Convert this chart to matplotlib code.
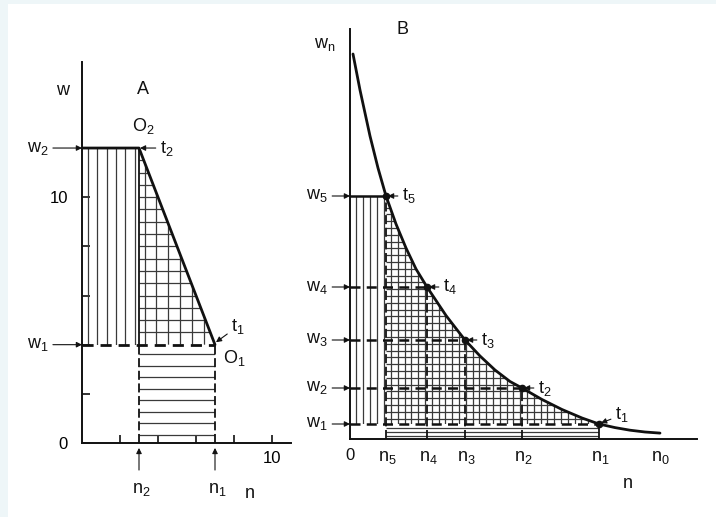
import numpy as np
import matplotlib
matplotlib.use("Agg")
import matplotlib.pyplot as plt
from matplotlib.patches import Polygon, Rectangle
from matplotlib.collections import LineCollection

plt.rcParams['font.family'] = ['Liberation Sans', 'DejaVu Sans']
plt.rcParams['mathtext.default'] = 'regular'

# --- panel A: two-step process ---
a_n = [0, 3, 7]          # n at w2 plateau start, n2, n1
a_w = [12, 12, 4]        # w2, w2, w1
a_n2, a_n1 = 3, 7
a_w2, a_w1 = 12, 4
a_ticks = [2, 4, 6, 8, 10]

# --- panel B: multi-step process, w_n(n) curve ---
b_curve_n = [0.3, 1.0, 2.0, 2.8, 3.6, 4.6, 5.6, 6.6, 7.7, 8.7, 9.6, 10.6, 11.5,
             13.0, 14.5, 16.0, 17.2, 19.2, 21.2, 23.2, 24.9, 26.5, 28.0, 29.5, 31.0]
b_curve_w = [38.5, 34.9, 30.3, 27.1, 24.3, 21.5, 19.1, 17.0, 15.2, 13.7, 12.35, 11.05, 9.9,
             8.3, 6.9, 5.75, 5.1, 3.95, 2.95, 2.1, 1.5, 1.14, 0.88, 0.7, 0.59]
# stage points t5..t1
b_step_n = [3.6, 7.7, 11.5, 17.2, 24.9]
b_step_w = [24.3, 15.2, 9.9, 5.1, 1.5]
b_step_idx = ['5', '4', '3', '2', '1']
b_n0 = 31.0

ink = '#111111'
hatch_ink = '#3a3a3a'
lab_size = 13


def hatch(ax, xy, dx=None, dy=None, x_start=None, y_start=None, lw=0.9):
    xy = np.asarray(xy, dtype=float)
    poly = Polygon(xy, closed=True, facecolor='none', edgecolor='none')
    ax.add_patch(poly)
    x0, y0 = xy.min(axis=0)
    x1, y1 = xy.max(axis=0)
    segs = []
    if dx:
        xs = np.arange(x_start if x_start is not None else x0 + dx / 2, x1, dx)
        segs += [[(x, y0), (x, y1)] for x in xs]
    if dy:
        ys = np.arange(y_start if y_start is not None else y0 + dy / 2, y1, dy)
        segs += [[(x0, y), (x1, y)] for y in ys]
    lc = LineCollection(segs, colors=hatch_ink, linewidths=lw)
    ax.add_collection(lc)
    lc.set_clip_path(poly)


def label_arrow(ax, text, xy, xytext, ha):
    ax.annotate(text, xy=xy, xytext=xytext, ha=ha, va='center', fontsize=lab_size, color=ink,
                arrowprops=dict(arrowstyle='-|>', color=ink, lw=0.8, mutation_scale=8,
                                shrinkA=1, shrinkB=0))


fig = plt.figure(figsize=(7.16, 5.17), dpi=100)
fig.patches.append(Rectangle((0, 0), 8 / 716, 1, transform=fig.transFigure,
                             facecolor='#eef6f8', edgecolor='none', zorder=-5))
fig.patches.append(Rectangle((0, 1 - 4 / 517), 1, 4 / 517, transform=fig.transFigure,
                             facecolor='#eef6f8', edgecolor='none', zorder=-5))

# ================= A =================
axA = fig.add_axes([82 / 716, 74 / 517, 209 / 716, 381 / 517])
axA.set_xlim(0, 11)
axA.set_ylim(0, 15.5)
axA.set_facecolor('none')
for s in ['top', 'right']:
    axA.spines[s].set_visible(False)
for s in ['left', 'bottom']:
    axA.spines[s].set_linewidth(1.4)
    axA.spines[s].set_color(ink)
axA.set_xticks(a_ticks)
axA.set_xticklabels(['', '', '', '', '10'], fontsize=12)
axA.set_yticks([0] + a_ticks)
axA.set_yticklabels(['0', '', '', '', '', '10'], fontsize=12)
axA.tick_params(axis='y', direction='in', length=6, width=1.2, color=ink, pad=10)
axA.tick_params(axis='x', direction='in', length=6, width=1.2, color=ink, pad=6)

hatch(axA, [(0, a_w1), (0, a_w2), (a_n2, a_w2), (a_n2, a_w1)], dx=0.49, x_start=0.32)
hatch(axA, [(a_n2, a_w1), (a_n2, a_w2), (a_n1, a_w1)], dx=0.62, dy=0.5,
      x_start=a_n2 + 0.3, y_start=a_w1 + 0.5)
hatch(axA, [(a_n2, 0), (a_n2, a_w1), (a_n1, a_w1), (a_n1, 0)], dy=0.47, y_start=0.33)

axA.plot(a_n, a_w, color=ink, lw=2.0, solid_capstyle='round')
axA.plot([a_n2, a_n2], [a_w1, a_w2], color=ink, lw=1.3)
axA.plot([0, a_n1], [a_w1, a_w1], color=ink, lw=2.0, ls=(0, (4, 2.5)))
axA.plot([a_n2, a_n2], [0, a_w1], color=ink, lw=1.3, ls=(0, (5, 2)))
axA.plot([a_n1, a_n1], [0, a_w1], color=ink, lw=1.3, ls=(0, (5, 2)))

txt = dict(fontsize=lab_size, color=ink, ha='center', va='center')
axA.text(-1.05, 14.35, 'w', **txt)
axA.text(3.2, 14.4, 'A', **txt)
axA.text(3.2, 12.9, 'O$_2$', **txt)
axA.text(8.0, 3.45, 'O$_1$', **txt)
label_arrow(axA, 'w$_2$', (0, a_w2), (-1.75, a_w2), 'right')
label_arrow(axA, 'w$_1$', (0, a_w1), (-1.75, a_w1), 'right')
label_arrow(axA, 't$_2$', (a_n2 + 0.05, a_w2), (4.1, a_w2), 'left')
label_arrow(axA, 't$_1$', (a_n1 + 0.05, a_w1 + 0.1), (7.85, 4.75), 'left')
for n, lab in [(a_n2, 'n$_2$'), (a_n1, 'n$_1$')]:
    axA.annotate('', xy=(n, -0.2), xytext=(n, -1.1), annotation_clip=False,
                 arrowprops=dict(arrowstyle='-|>', color=ink, lw=0.8, mutation_scale=8,
                                 shrinkA=0, shrinkB=0))
    axA.text(n + 0.1, -1.9, lab, **txt)
axA.text(8.85, -2.05, 'n', **txt)

# ================= B =================
axB = fig.add_axes([350 / 716, 78 / 517, 347 / 716, 410 / 517])
axB.set_xlim(0, 34.7)
axB.set_ylim(0, 41)
axB.set_facecolor('none')
for s in ['top', 'right']:
    axB.spines[s].set_visible(False)
for s in ['left', 'bottom']:
    axB.spines[s].set_linewidth(1.4)
    axB.spines[s].set_color(ink)
axB.set_xticks([])
axB.set_yticks([])

cn = np.array(b_curve_n)
cw = np.array(b_curve_w)
n5, n1 = b_step_n[0], b_step_n[-1]
w5, w1 = b_step_w[0], b_step_w[-1]

hatch(axB, [(0, w1), (0, w5), (n5, w5), (n5, w1)], dx=0.7, x_start=0.6)
inside = (cn >= n5) & (cn <= n1)
grid_poly = [(n5, w1)] + list(zip(cn[inside], cw[inside])) + [(n1, w1)]
hatch(axB, grid_poly, dx=0.68, dy=0.68, x_start=n5 + 0.5, y_start=w1 + 0.55)
hatch(axB, [(n5, 0), (n5, w1), (n1, w1), (n1, 0)], dy=0.4, y_start=0.3)

axB.plot(cn, cw, color=ink, lw=2.0, solid_capstyle='round', solid_joinstyle='round')

for i, (n, w, k) in enumerate(zip(b_step_n, b_step_w, b_step_idx)):
    last = i == len(b_step_n) - 1
    axB.plot([0, n], [w, w], color=ink, lw=1.8,
             ls='-' if i == 0 else (0, (4, 2.5)))
    axB.plot([n, n], [0, w], color=ink, lw=1.3,
             ls='-' if last else (0, (5, 2)))
    axB.plot(n, w, 'o', color=ink, ms=4.5)
    label_arrow(axB, 'w$_%s$' % k, (0, w), (-2.2, w), 'right')
    label_arrow(axB, 't$_%s$' % k, (n + 0.2, w + (0.1 if last else 0)),
                (n + 1.6, w + (0.9 if last else 0)), 'left')

txtB = dict(fontsize=lab_size, color=ink, ha='center', va='center')
axB.text(-2.5, 39.4, 'w$_n$', **txtB)
axB.text(5.2, 40.9, 'B', **txtB)
axB.text(0, -1.7, '0', fontsize=12, color=ink, ha='center', va='center')
for n, k in zip(b_step_n, b_step_idx):
    axB.text(n + 0.1, -1.85, 'n$_%s$' % k, **txtB)
axB.text(b_n0, -1.85, 'n$_0$', **txtB)
axB.text(27.8, -4.4, 'n', **txtB)

fig.savefig('out.png', dpi=100)
